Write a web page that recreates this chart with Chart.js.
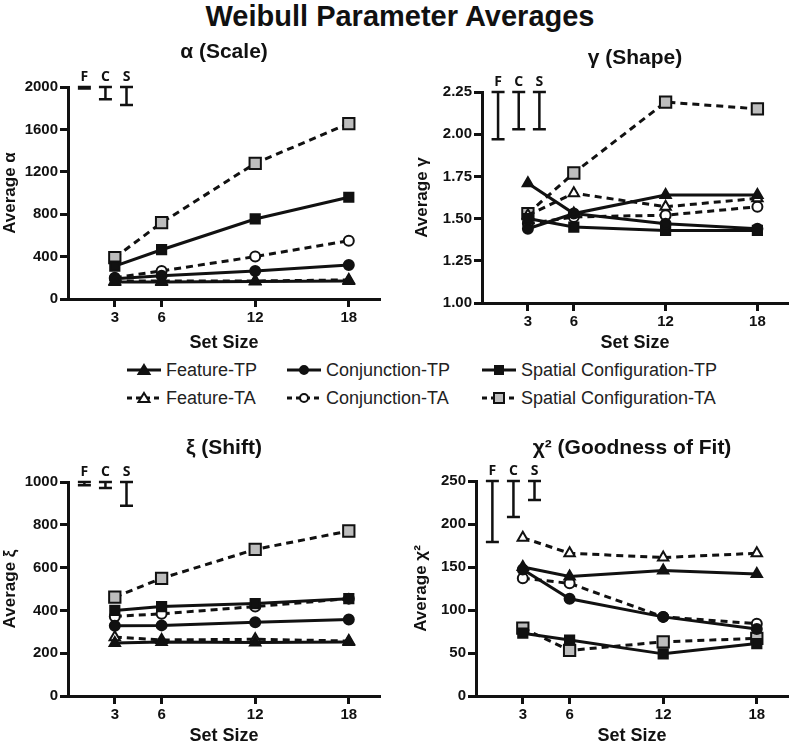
<!DOCTYPE html>
<html>
<head>
<meta charset="utf-8">
<script src="https://cdn.jsdelivr.net/npm/chart.js@4"></script>
<style>
  body { margin: 0; background: #fff; width: 800px; height: 744px; overflow: hidden; position: relative; font-family: 'Liberation Sans', Arial, sans-serif; }
  .panel { position: absolute; }
  #mainTitle { position: absolute; left: 0; top: 0; width: 800px; text-align: center; font-size: 29px; font-weight: bold; color: #111; line-height: 32px; }
  .leg { position: absolute; display: flex; align-items: center; font-size: 18px; color: #222; height: 20px; }
  .leg svg { margin-right: 5px; }
</style>
</head>
<body>
<div id="mainTitle">Weibull Parameter Averages</div>

<div class="panel" style="left:0;top:30px"><canvas id="alphaChart" width="390" height="324"></canvas></div>
<div class="panel" style="left:400px;top:30px"><canvas id="gammaChart" width="398" height="324"></canvas></div>
<div class="panel" style="left:0;top:420px"><canvas id="xiChart" width="390" height="327"></canvas></div>
<div class="panel" style="left:400px;top:420px"><canvas id="chiChart" width="398" height="327"></canvas></div>
<div id="legend"></div>

<script>
// === Données ===
const setSizes = [3, 6, 12, 18];
const seriesNames = ['Feature-TP', 'Conjunction-TP', 'Spatial Configuration-TP',
                     'Feature-TA', 'Conjunction-TA', 'Spatial Configuration-TA'];
const errLabels = ['F', 'C', 'S'];
const errX = [1.05, 2.4, 3.75];

// alpha (Scale)
const alphaFeatTP = [160, 160, 165, 170];
const alphaConjTP = [190, 220, 265, 320];
const alphaSpatTP = [310, 465, 755, 960];
const alphaFeatTA = [170, 170, 170, 180];
const alphaConjTA = [200, 265, 400, 550];
const alphaSpatTA = [390, 720, 1280, 1655];
const alphaErrTop = [2000, 2000, 2000];
const alphaErrBottom = [1985, 1885, 1830];

// gamma (Shape)
const gammaFeatTP = [1.71, 1.53, 1.64, 1.64];
const gammaConjTP = [1.44, 1.53, 1.47, 1.44];
const gammaSpatTP = [1.50, 1.45, 1.43, 1.43];
const gammaFeatTA = [1.52, 1.65, 1.57, 1.62];
const gammaConjTA = [1.47, 1.51, 1.52, 1.57];
const gammaSpatTA = [1.53, 1.77, 2.19, 2.15];
const gammaErrTop = [2.25, 2.25, 2.25];
const gammaErrBottom = [1.97, 2.03, 2.03];

// xi (Shift)
const xiFeatTP = [248, 252, 250, 252];
const xiConjTP = [328, 330, 345, 357];
const xiSpatTP = [400, 418, 432, 455];
const xiFeatTA = [275, 262, 265, 257];
const xiConjTA = [372, 384, 418, 455];
const xiSpatTA = [462, 550, 685, 771];
const xiErrTop = [1000, 1000, 1000];
const xiErrBottom = [985, 972, 889];

// chi2 (Goodness of Fit)
const chiFeatTP = [150, 139, 146, 142];
const chiConjTP = [147, 113, 92, 78];
const chiSpatTP = [73, 65, 49, 61];
const chiFeatTA = [184, 166, 161, 166];
const chiConjTA = [137, 131, 92, 84];
const chiSpatTA = [79, 53, 63, 67];
const chiErrTop = [250, 250, 250];
const chiErrBottom = [179, 208, 228];

// === Styles ===
const ink = '#111';
const seriesStyle = [
  { pointStyle: 'triangle', radius: 6, fill: ink, dash: [] },
  { pointStyle: 'circle', radius: 5, fill: ink, dash: [] },
  { pointStyle: 'rect', radius: 6.5, fill: ink, dash: [] },
  { pointStyle: 'triangle', radius: 6, fill: '#fff', dash: [7, 5] },
  { pointStyle: 'circle', radius: 5, fill: '#fff', dash: [7, 5] },
  { pointStyle: 'rect', radius: 8, fill: '#bdbdbd', dash: [7, 5] }
];

Chart.defaults.font.family = "'Liberation Sans', Arial, sans-serif";
Chart.defaults.color = ink;

function buildDatasets(seriesValues) {
  return seriesValues.map((vals, i) => {
    const st = seriesStyle[i];
    return {
      label: seriesNames[i],
      data: setSizes.map((s, j) => ({ x: s, y: vals[j] })),
      borderColor: ink,
      borderWidth: 3,
      borderDash: st.dash,
      pointStyle: st.pointStyle,
      pointRadius: st.radius,
      pointBackgroundColor: st.fill,
      pointBorderColor: ink,
      pointBorderWidth: 2,
      tension: 0,
      fill: false
    };
  });
}

function makePanel(p) {
  // barres d'erreur F / C / S en haut à gauche
  const errorBars = {
    id: 'errorBars',
    afterDatasetsDraw(chart) {
      const { ctx, scales: { x, y } } = chart;
      ctx.save();
      ctx.strokeStyle = ink;
      ctx.fillStyle = ink;
      ctx.lineWidth = 2.5;
      ctx.font = "bold 14px 'Open Sans', sans-serif";
      ctx.textAlign = 'center';
      ctx.textBaseline = 'bottom';
      errX.forEach((v, i) => {
        const px = x.getPixelForValue(v);
        const top = y.getPixelForValue(p.errTop[i]);
        const bot = y.getPixelForValue(p.errBottom[i]);
        ctx.beginPath();
        ctx.moveTo(px, top); ctx.lineTo(px, bot);
        ctx.moveTo(px - 6.5, top); ctx.lineTo(px + 6.5, top);
        ctx.moveTo(px - 6.5, bot); ctx.lineTo(px + 6.5, bot);
        ctx.stroke();
        ctx.fillText(errLabels[i], px, top - 3);
      });
      ctx.restore();
    }
  };

  const tickFont = { size: 15, weight: 'bold' };
  const gridOpts = { drawOnChartArea: false, drawTicks: true, tickLength: 8, tickWidth: 3, tickColor: ink, color: ink };

  new Chart(document.getElementById(p.id).getContext('2d'), {
    type: 'line',
    data: { datasets: buildDatasets(p.series) },
    options: {
      responsive: false,
      animation: false,
      devicePixelRatio: 1,
      layout: { padding: 0 },
      plugins: {
        legend: { display: false },
        tooltip: { enabled: false },
        title: {
          display: true,
          fullSize: false,
          text: p.title,
          font: { size: 21, weight: 'bold' },
          color: ink,
          padding: { top: p.titleTop, bottom: p.titleBottom }
        }
      },
      scales: {
        x: {
          type: 'linear',
          min: 0,
          max: 20,
          afterBuildTicks: s => { s.ticks = setSizes.map(v => ({ value: v })); },
          afterFit: s => { s.height = p.xH; },
          ticks: { font: tickFont, padding: 2, autoSkip: false, maxRotation: 0 },
          border: { display: true, color: ink, width: 3 },
          grid: gridOpts,
          title: { display: true, text: 'Set Size', font: { size: 18, weight: 'bold' }, padding: { top: 0, bottom: 0 } }
        },
        y: {
          type: 'linear',
          min: p.yMin,
          max: p.yMax,
          afterFit: s => { s.width = p.yW; },
          ticks: { stepSize: p.yStep, font: tickFont, padding: 2, callback: p.fmt || (v => v) },
          border: { display: true, color: ink, width: 3 },
          grid: gridOpts,
          title: { display: true, text: p.yTitle, font: { size: 17, weight: 'bold' }, padding: { top: p.yTitlePad, bottom: 0 } }
        }
      }
    },
    plugins: [errorBars]
  });
}

makePanel({
  id: 'alphaChart', title: 'α (Scale)', yTitle: 'Average α',
  yMin: 0, yMax: 2000, yStep: 400, yW: 68, xH: 55, titleTop: 9.4, titleBottom: 22.4, yTitlePad: 0,
  series: [alphaFeatTP, alphaConjTP, alphaSpatTP, alphaFeatTA, alphaConjTA, alphaSpatTA],
  errTop: alphaErrTop, errBottom: alphaErrBottom
});
makePanel({
  id: 'gammaChart', title: 'γ (Shape)', yTitle: 'Average γ',
  yMin: 1, yMax: 2.25, yStep: 0.25, yW: 82, xH: 51, titleTop: 15.4, titleBottom: 21.4, yTitlePad: 11.8,
  fmt: v => v.toFixed(2),
  series: [gammaFeatTP, gammaConjTP, gammaSpatTP, gammaFeatTA, gammaConjTA, gammaSpatTA],
  errTop: gammaErrTop, errBottom: gammaErrBottom
});
makePanel({
  id: 'xiChart', title: 'ξ (Shift)', yTitle: 'Average ξ',
  yMin: 0, yMax: 1000, yStep: 200, yW: 68, xH: 51, titleTop: 15.4, titleBottom: 21.4, yTitlePad: 0,
  series: [xiFeatTP, xiConjTP, xiSpatTP, xiFeatTA, xiConjTA, xiSpatTA],
  errTop: xiErrTop, errBottom: xiErrBottom
});
makePanel({
  id: 'chiChart', title: 'χ² (Goodness of Fit)', yTitle: 'Average χ²',
  yMin: 0, yMax: 250, yStep: 50, yW: 76, xH: 51, titleTop: 15.4, titleBottom: 20.4, yTitlePad: 10.8,
  series: [chiFeatTP, chiConjTP, chiSpatTP, chiFeatTA, chiConjTA, chiSpatTA],
  errTop: chiErrTop, errBottom: chiErrBottom
});

// === Légende commune (HTML) ===
const legendCols = [127, 287, 482];
const legendRows = [360, 388];
function legendSymbol(st) {
  const dash = st.dash.length ? 'stroke-dasharray="5 4"' : '';
  let mark;
  if (st.pointStyle === 'triangle') mark = `<polygon points="17,2 22.5,11 11.5,11" fill="${st.fill}" stroke="${ink}" stroke-width="2"/>`;
  else if (st.pointStyle === 'circle') mark = `<circle cx="17" cy="7" r="4" fill="${st.fill}" stroke="${ink}" stroke-width="2"/>`;
  else { const h = st.fill === ink ? 4 : 5; mark = `<rect x="${17 - h}" y="${7 - h}" width="${2 * h}" height="${2 * h}" fill="${st.fill}" stroke="${ink}" stroke-width="2"/>`; }
  return `<svg width="34" height="14"><line x1="0" y1="7" x2="34" y2="7" stroke="${ink}" stroke-width="3" ${dash}/>${mark}</svg>`;
}
const legendEl = document.getElementById('legend');
seriesNames.forEach((name, i) => {
  const div = document.createElement('div');
  div.className = 'leg';
  div.style.left = legendCols[i % 3] + 'px';
  div.style.top = legendRows[Math.floor(i / 3)] + 'px';
  div.innerHTML = legendSymbol(seriesStyle[i]) + '<span>' + name + '</span>';
  legendEl.appendChild(div);
});
</script>
</body>
</html>
